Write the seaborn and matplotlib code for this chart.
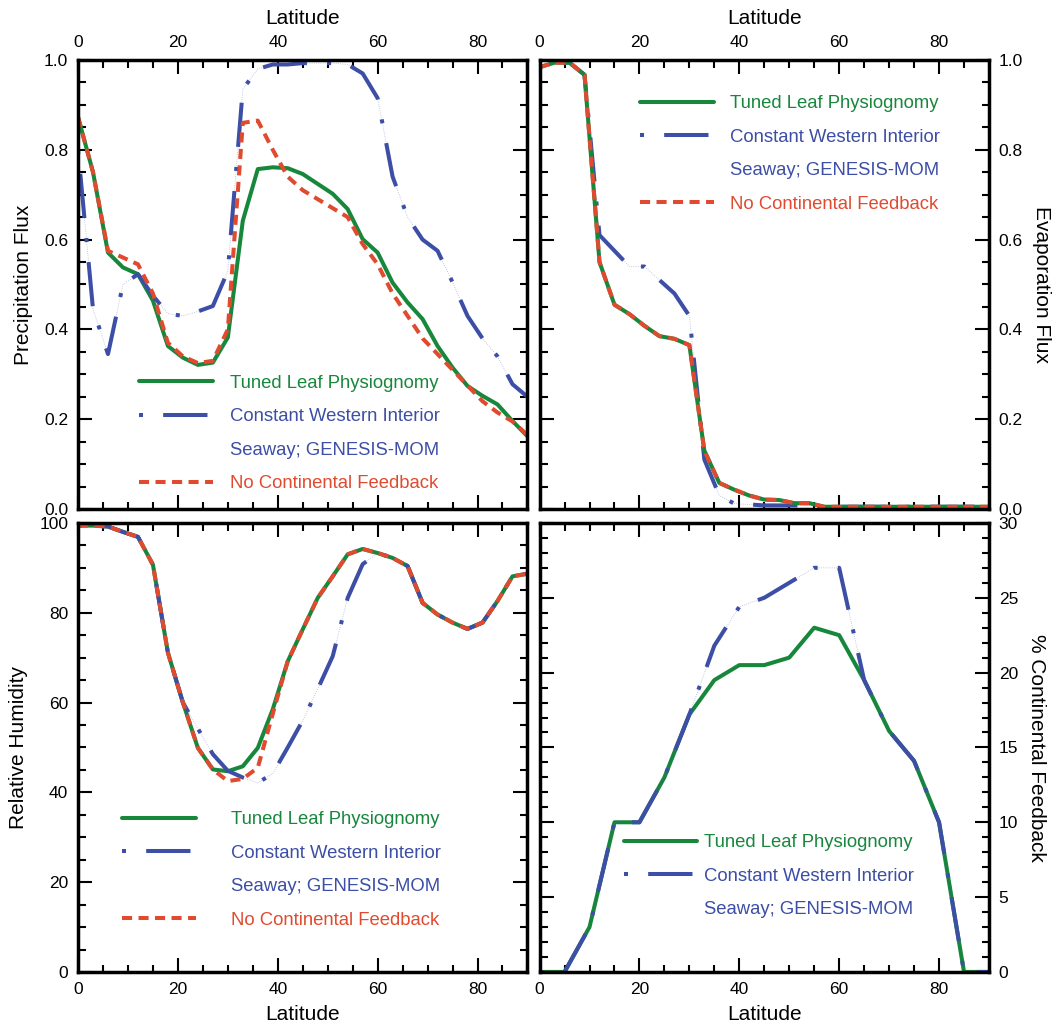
import matplotlib
matplotlib.use("Agg")
import matplotlib.pyplot as plt
from matplotlib.lines import Line2D
from matplotlib.ticker import MultipleLocator
import pandas as pd
import seaborn as sns

sns.set_theme(style="white")
plt.rcParams['font.family'] = ['Liberation Sans', 'DejaVu Sans']
for k in ['text.color', 'axes.labelcolor', 'xtick.color', 'ytick.color']:
    plt.rcParams[k] = 'black'

# latitude grids
lat3 = list(range(0, 91, 3))
lat5 = list(range(0, 91, 5))

# precipitation flux
precip_tuned = [0.873, 0.75, 0.571, 0.538, 0.523, 0.464, 0.363, 0.337, 0.321, 0.326, 0.382,
                0.642, 0.757, 0.761, 0.759, 0.746, 0.724, 0.702, 0.668, 0.601, 0.571,
                0.504, 0.460, 0.423, 0.363, 0.315, 0.274, 0.252, 0.233, 0.196, 0.162]
precip_wis = [0.80, 0.445, 0.345, 0.50, 0.523, 0.475, 0.435, 0.43, 0.44, 0.452, 0.53,
              0.935, 0.98, 0.99, 0.99, 0.993, 0.993, 0.993, 0.99, 0.97, 0.915,
              0.74, 0.65, 0.60, 0.575, 0.505, 0.43, 0.38, 0.34, 0.278, 0.25]
precip_nofb = [0.873, 0.75, 0.575, 0.56, 0.545, 0.48, 0.37, 0.34, 0.325, 0.33, 0.40,
               0.86, 0.865, 0.80, 0.74, 0.71, 0.69, 0.67, 0.65, 0.59, 0.545,
               0.48, 0.43, 0.38, 0.345, 0.31, 0.275, 0.24, 0.215, 0.195, 0.165]

# evaporation flux
evap_tuned = [0.984, 0.994, 0.994, 0.967, 0.55, 0.455, 0.434, 0.408, 0.385, 0.379, 0.365,
              0.13, 0.058, 0.043, 0.03, 0.021, 0.02, 0.013, 0.013, 0.005, 0.005,
              0.005, 0.005, 0.005, 0.005, 0.005, 0.005, 0.005, 0.005, 0.005, 0.005]
evap_wis = [0.984, 0.994, 0.994, 0.967, 0.61, 0.575, 0.54, 0.54, 0.51, 0.48, 0.43,
            0.11, 0.03, 0.012, 0.01, 0.008, 0.008, 0.008, 0.008, 0.005, 0.005,
            0.005, 0.005, 0.005, 0.005, 0.005, 0.005, 0.005, 0.005, 0.005, 0.005]
evap_nofb = evap_tuned

# relative humidity
rh_tuned = [99.4, 99.4, 99.2, 98.0, 96.9, 90.7, 71.1, 60.0, 49.9, 45.1, 44.7,
            45.8, 49.9, 58.5, 69.2, 76.3, 83.3, 88.1, 93.0, 94.2, 93.3,
            92.2, 90.4, 82.2, 79.6, 77.8, 76.4, 77.8, 82.6, 88.1, 88.7]
rh_wis = [99.4, 99.4, 99.2, 98.0, 96.9, 90.7, 71.1, 60.0, 54.2, 48.5, 44.8,
          43.3, 42.1, 44.2, 50.0, 56.0, 63.0, 70.3, 83.3, 90.8, 93.3,
          92.2, 90.4, 82.2, 79.6, 77.8, 76.4, 77.8, 82.6, 88.1, 88.7]
rh_nofb = [99.4, 99.4, 99.2, 98.0, 96.9, 90.7, 71.1, 60.0, 49.9, 45.1, 42.5,
           43.0, 45.5, 57.5, 69.2, 76.3, 83.3, 88.1, 93.0, 94.2, 93.3,
           92.2, 90.4, 82.2, 79.6, 77.8, 76.4, 77.8, 82.6, 88.1, 88.7]

# % continental feedback
cf_tuned = [0, 0, 3, 10, 10, 13, 17.2, 19.5, 20.5, 20.5, 21, 23, 22.5, 19.5, 16.1, 14.1, 10, 0, 0]
cf_wis = [0, 0, 3, 10, 10, 13, 17.2, 21.8, 24.4, 25.0, 26, 27, 27, 19.5, 16.1, 14.1, 10, 0, 0]

GREEN = "#17873c"
BLUE = "#3c4ea5"
RED = "#e04a2f"
LW = 2.9
STY = {
    "tuned": dict(color=GREEN, linestyle="-"),
    "wis": dict(color=BLUE, linestyle=(0, (1, 5, 11, 5))),
    "nofb": dict(color=RED, linestyle=(0, (2.5, 1.6))),
}
NAMES = ["Tuned Leaf Physiognomy", "Constant Western Interior",
         "Seaway; GENESIS-MOM", "No Continental Feedback"]

fig, axes = plt.subplots(2, 2, figsize=(10.53, 10.27), dpi=100,
                         gridspec_kw=dict(wspace=0.027, hspace=0.031))
fig.subplots_adjust(left=0.0741, right=0.9392, top=0.9416, bottom=0.0536)


def draw(ax, lat, series):
    for key, vals in series:
        df = pd.DataFrame({"lat": lat, "val": vals})
        if key == "wis":
            # faint dotted trace that shows in the gaps of the dash-dot line
            sns.lineplot(data=df, x="lat", y="val", ax=ax, estimator=None,
                         color=BLUE, lw=0.6, linestyle=":", alpha=0.4)
        sns.lineplot(data=df, x="lat", y="val", ax=ax, estimator=None,
                     lw=LW, **STY[key])


def legend(ax, keys, anchor, pad):
    handles, labels, colors = [], [], []
    for key in keys:
        handles.append(Line2D([], [], lw=LW, **STY[key]))
        if key == "tuned":
            labels.append(NAMES[0]); colors.append(GREEN)
        elif key == "wis":
            labels.append(NAMES[1]); colors.append(BLUE)
            handles.append(Line2D([], [], linestyle="none"))
            labels.append(NAMES[2]); colors.append(BLUE)
        else:
            labels.append(NAMES[3]); colors.append(RED)
    leg = ax.legend(handles, labels, loc="upper left", bbox_to_anchor=anchor,
                    frameon=False, fontsize=13.3, handlelength=4.0,
                    handletextpad=pad, labelspacing=0.89, borderpad=0,
                    borderaxespad=0)
    for t, c in zip(leg.get_texts(), colors):
        t.set_color(c)


draw(axes[0, 0], lat3, [("tuned", precip_tuned), ("wis", precip_wis), ("nofb", precip_nofb)])
draw(axes[0, 1], lat3, [("wis", evap_wis), ("tuned", evap_tuned), ("nofb", evap_nofb)])
draw(axes[1, 0], lat3, [("tuned", rh_tuned), ("wis", rh_wis), ("nofb", rh_nofb)])
draw(axes[1, 1], lat5, [("tuned", cf_tuned), ("wis", cf_wis)])

legend(axes[0, 0], ["tuned", "wis", "nofb"], (0.136, 0.299), 0.92)
legend(axes[0, 1], ["tuned", "wis", "nofb"], (0.224, 0.921), 0.86)
legend(axes[1, 0], ["tuned", "wis", "nofb"], (0.098, 0.358), 1.9)
legend(axes[1, 1], ["tuned", "wis"], (0.187, 0.307), 0.36)

ylims = [(0, 1), (0, 1), (0, 100), (0, 30)]
ymaj = [0.2, 0.2, 20, 5]
ymin = [0.05, 0.05, 5, 1]
ylabels = ["Precipitation Flux", "Evaporation Flux", "Relative Humidity", "% Continental Feedback"]

for i, ax in enumerate(axes.flat):
    top_row = i < 2
    right_col = i % 2 == 1
    ax.set_xlim(0, 90)
    ax.set_ylim(*ylims[i])
    ax.xaxis.set_major_locator(MultipleLocator(20))
    ax.xaxis.set_minor_locator(MultipleLocator(5))
    ax.yaxis.set_major_locator(MultipleLocator(ymaj[i]))
    ax.yaxis.set_minor_locator(MultipleLocator(ymin[i]))
    if i < 2:
        ax.yaxis.set_major_formatter(lambda v, p: f"{v:.1f}")
    ax.tick_params(which="both", direction="in", top=True, bottom=True,
                   left=True, right=True, width=1.5, colors="black",
                   labelsize=12.5, pad=7,
                   labeltop=top_row, labelbottom=not top_row,
                   labelleft=not right_col, labelright=right_col)
    ax.tick_params(which="major", length=10)
    ax.tick_params(which="minor", length=5.4)
    for s in ax.spines.values():
        s.set_linewidth(2.5)
        s.set_color("black")
    if top_row:
        ax.xaxis.set_label_position("top")
        ax.set_xlabel("Latitude", fontsize=15, labelpad=8)
    else:
        ax.set_xlabel("Latitude", fontsize=15, labelpad=6)
    if right_col:
        ax.yaxis.set_label_position("right")
        ax.set_ylabel(ylabels[i], fontsize=15, rotation=270, labelpad=20)
    else:
        ax.set_ylabel(ylabels[i], fontsize=15, labelpad=8)

fig.savefig("out.png", dpi=100)
